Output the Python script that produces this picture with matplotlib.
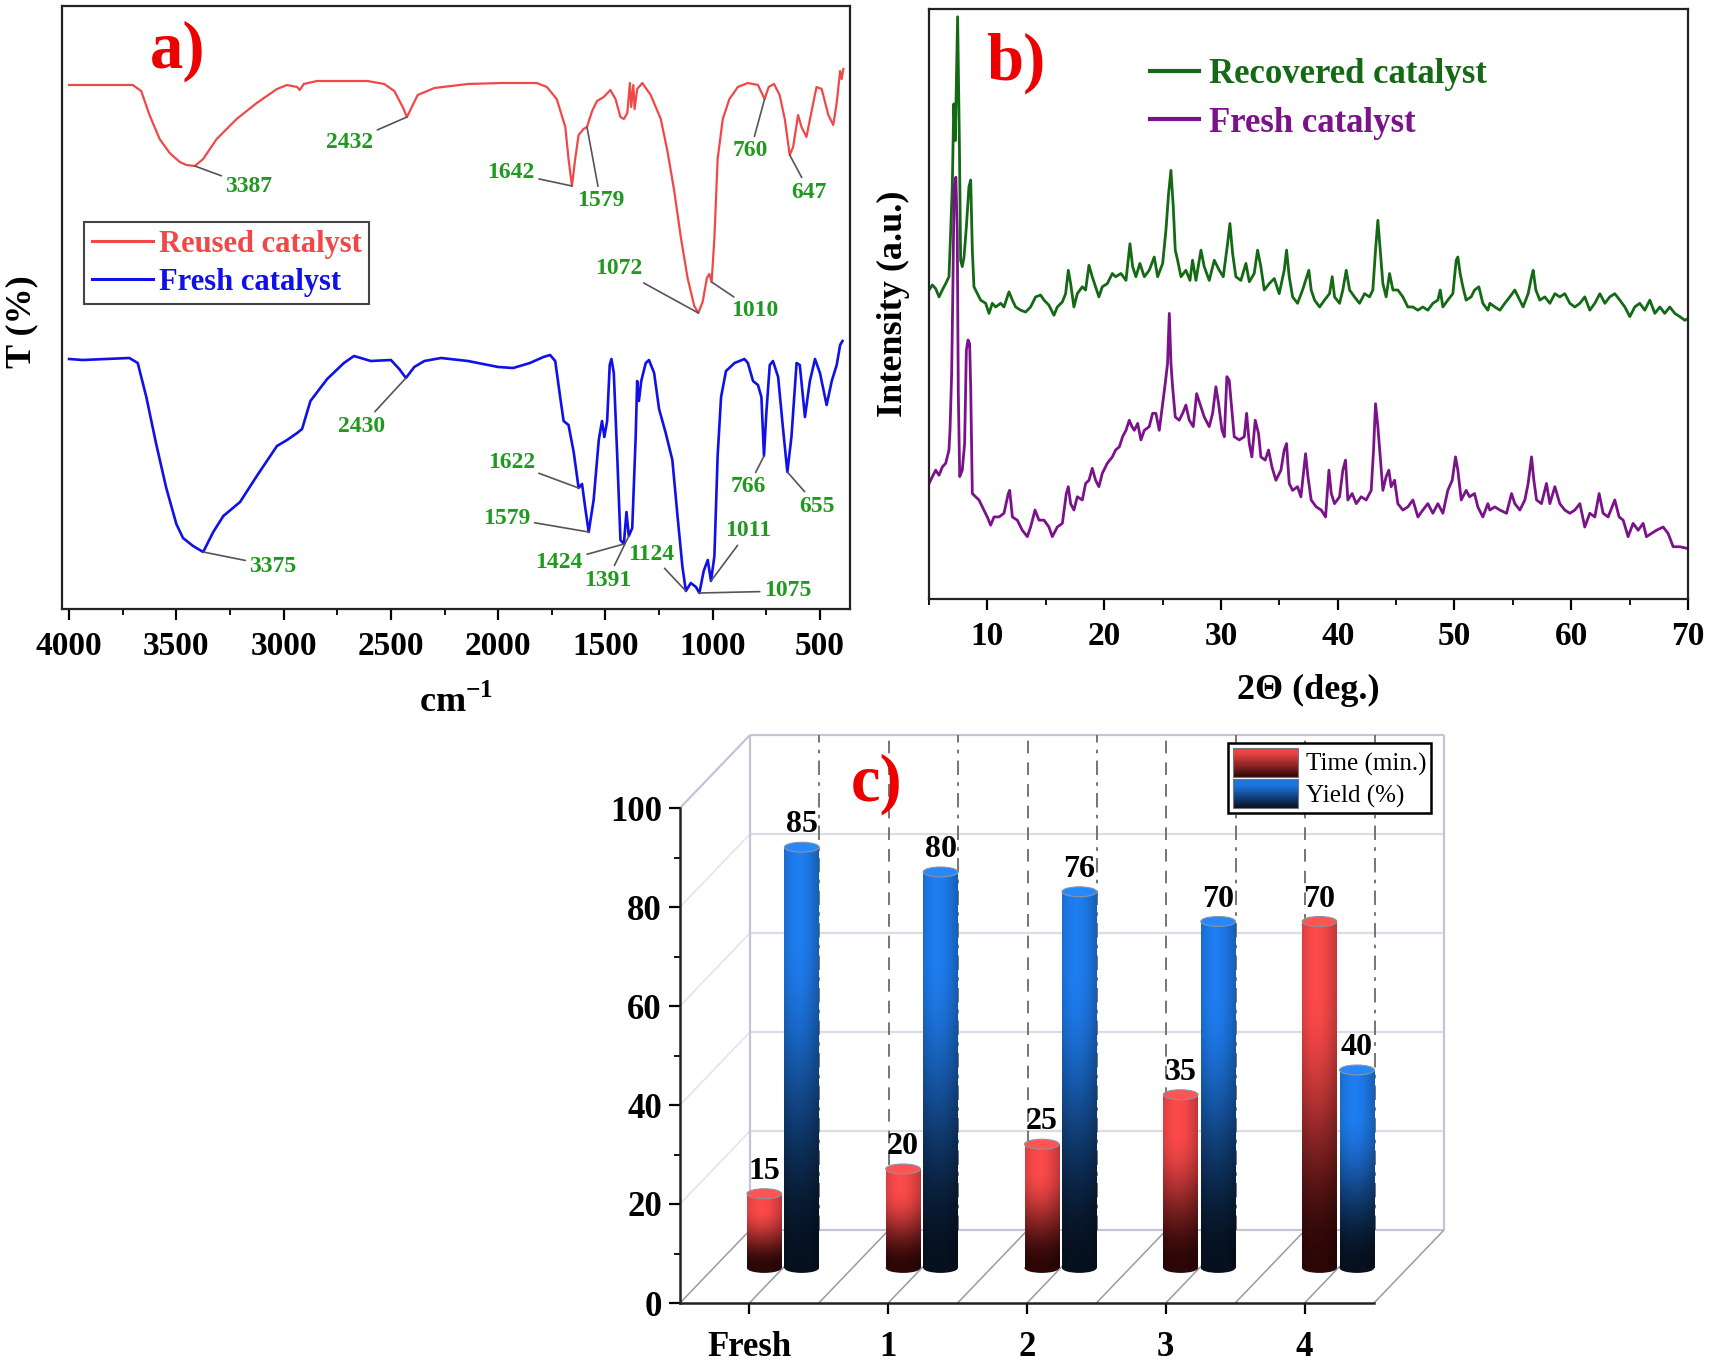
import numpy as np
import matplotlib
matplotlib.use('Agg')
import matplotlib.pyplot as plt
from matplotlib.patches import Rectangle, Ellipse, Patch
from matplotlib.legend_handler import HandlerBase
from matplotlib.ticker import MultipleLocator
from matplotlib.colors import to_rgb

# --- Configuration ---
W, H = 1713, 1367

plt.rcParams['font.family'] = ['Liberation Serif', 'DejaVu Serif']
plt.rcParams['font.weight'] = 'bold'
plt.rcParams['axes.labelweight'] = 'bold'
plt.rcParams['mathtext.fontset'] = 'custom'
plt.rcParams['mathtext.rm'] = 'Liberation Serif:bold'
plt.rcParams['mathtext.bf'] = 'Liberation Serif:bold'

RED_LINE = '#f04848'
BLUE_LINE = '#1010e8'
PEAK_TXT = '#1f9a1f'
XRD_GREEN = '#146a14'
XRD_PURPLE = '#7a128a'
RED_TOP, RED_BOT = '#ea4444', '#2a0606'
BLUE_TOP, BLUE_BOT = '#1c74de', '#06101e'

# --- a) FTIR: wavenumber (cm-1) vs transmittance (a.u.) ---
reused_wn = [4000, 3703, 3664, 3625, 3578, 3531, 3484, 3453, 3414, 3375,
             3312, 3219, 3125, 3031, 2984, 2937, 2925, 2906, 2844, 2766,
             2609, 2531, 2484, 2445, 2425, 2398, 2375, 2297, 2141, 1984,
             1820, 1773, 1727, 1687, 1672, 1656, 1641, 1625, 1602, 1586,
             1562, 1539, 1508, 1477, 1453, 1430, 1414, 1398, 1386, 1380,
             1370, 1364, 1352, 1328, 1289, 1242, 1211, 1180, 1148, 1117,
             1086, 1067, 1047, 1027, 1016, 1005, 992, 977, 953, 922,
             883, 836, 789, 758, 739, 714, 688, 664, 641, 625,
             602, 586, 563, 539, 516, 492, 461, 438, 422, 406,
             399, 391]
reused_t = [524, 524, 518, 494, 470, 456, 447, 444, 443, 450,
            470, 490, 506, 520, 524, 522, 519, 525, 528, 528,
            528, 525, 518, 502, 492, 504, 514, 521, 525, 526,
            526, 522, 510, 482, 450, 423, 450, 474, 480, 482,
            498, 508, 512, 519, 510, 492, 490, 496, 526, 502,
            524, 500, 520, 526, 514, 490, 458, 419, 371, 331,
            303, 296, 307, 331, 335, 327, 371, 450, 490, 510,
            522, 526, 524, 510, 522, 525, 514, 490, 454, 462,
            494, 482, 472, 498, 522, 520, 494, 484, 506, 538,
            530, 540]

fresh_wn = [4000, 3937, 3719, 3680, 3640, 3594, 3547, 3500, 3469, 3422,
            3375, 3328, 3281, 3203, 3125, 3031, 2984, 2937, 2914, 2875,
            2797, 2719, 2672, 2625, 2594, 2500, 2461, 2430, 2391, 2344,
            2266, 2141, 2000, 1930, 1852, 1789, 1758, 1734, 1711, 1695,
            1672, 1648, 1625, 1609, 1594, 1578, 1555, 1531, 1516, 1505,
            1492, 1480, 1472, 1461, 1445, 1430, 1414, 1402, 1391, 1375,
            1359, 1352, 1344, 1333, 1312, 1297, 1273, 1250, 1219, 1188,
            1164, 1141, 1125, 1102, 1078, 1062, 1042, 1023, 1008, 992,
            977, 961, 938, 898, 852, 836, 812, 789, 773, 761,
            750, 734, 719, 695, 672, 652, 633, 609, 594, 570,
            547, 523, 500, 469, 445, 422, 406, 395]
fresh_t = [250, 249, 251, 246, 212, 165, 121, 85, 71, 63,
           57, 77, 93, 107, 133, 163, 169, 176, 180, 208,
           230, 246, 253, 250, 248, 249, 240, 231, 242, 248,
           251, 248, 242, 241, 246, 252, 254, 248, 212, 188,
           184, 157, 121, 125, 101, 77, 109, 169, 188, 172,
           188, 244, 250, 236, 153, 69, 65, 97, 73, 81,
           172, 228, 208, 228, 246, 249, 236, 200, 176, 149,
           93, 42, 18, 26, 22, 16, 38, 49, 28, 53,
           153, 212, 238, 246, 250, 246, 228, 224, 212, 153,
           196, 244, 248, 232, 180, 137, 172, 246, 244, 192,
           228, 250, 236, 204, 228, 244, 264, 268]

# (label, peak wn, peak T, label wn, label T)
reused_peaks = [('3387', 3414, 443, 3161, 423), ('2432', 2425, 492, 2692, 467),
                ('1642', 1656, 423, 1939, 436), ('1579', 1586, 482, 1522, 408),
                ('760', 758, 510, 824, 458), ('647', 641, 454, 549, 417),
                ('1072', 1067, 296, 1440, 340), ('1010', 1005, 327, 804, 298)]
fresh_peaks = [('3375', 3375, 57, 3049, 43), ('2430', 2430, 231, 2636, 183),
               ('1622', 1625, 121, 1939, 146), ('1579', 1578, 77, 1960, 91),
               ('1424', 1414, 65, 1715, 47), ('1391', 1391, 73, 1491, 29),
               ('1124', 1125, 18, 1287, 55), ('1011', 1008, 28, 834, 78),
               ('1075', 1062, 16, 651, 18), ('766', 761, 153, 834, 122),
               ('655', 652, 137, 513, 103)]

# --- b) XRD: (2theta deg, intensity a.u.) ---
recovered_xrd = [
    (5.0, 674), (5.29, 685), (5.57, 677), (5.86, 659), (6.14, 674), (6.43, 688),
    (6.71, 703), (6.86, 804), (7.0, 906), (7.12, 1080), (7.25, 1000), (7.45, 1270),
    (7.6, 1000), (7.71, 739), (7.85, 725), (8.0, 746), (8.2, 812), (8.42, 899),
    (8.57, 914), (8.71, 761), (8.85, 681), (9.14, 666), (9.42, 652), (9.85, 645),
    (10.14, 623), (10.42, 645), (10.71, 637), (11.14, 645), (11.42, 637), (11.85, 670),
    (12.14, 652), (12.42, 637), (12.85, 630), (13.28, 626), (13.7, 637), (14.13, 659),
    (14.56, 663), (14.85, 652), (15.27, 641), (15.7, 619), (15.99, 637), (16.42, 648),
    (16.7, 666), (16.93, 717), (17.13, 688), (17.41, 637), (17.7, 666), (18.13, 681),
    (18.41, 674), (18.7, 728), (18.98, 703), (19.27, 681), (19.55, 659), (19.84, 681),
    (20.27, 688), (20.7, 710), (20.98, 703), (21.44, 710), (21.87, 695), (22.21, 775),
    (22.44, 725), (22.72, 703), (23.06, 732), (23.44, 703), (23.86, 717), (24.29, 746),
    (24.58, 703), (25.01, 732), (25.29, 804), (25.52, 885), (25.72, 935), (25.92, 855),
    (26.09, 761), (26.29, 739), (26.58, 703), (27.0, 717), (27.35, 695), (27.57, 739),
    (27.86, 695), (28.29, 761), (28.57, 725), (29.0, 695), (29.43, 739), (29.86, 717),
    (30.2, 703), (30.57, 775), (30.77, 819), (31.0, 754), (31.28, 703), (31.71, 695),
    (32.14, 732), (32.43, 692), (32.85, 710), (33.14, 761), (33.42, 725), (33.71, 674),
    (34.14, 688), (34.57, 699), (34.99, 666), (35.42, 717), (35.62, 761), (35.85, 703),
    (36.14, 659), (36.56, 645), (36.99, 674), (37.36, 703), (37.53, 717), (37.73, 674),
    (38.02, 652), (38.45, 637), (38.87, 652), (39.3, 666), (39.53, 703), (39.73, 659),
    (40.16, 645), (40.44, 674), (40.73, 717), (41.02, 674), (41.44, 659), (41.87, 645),
    (42.3, 666), (42.73, 659), (43.01, 674), (43.24, 761), (43.44, 826), (43.64, 761),
    (43.87, 688), (44.15, 659), (44.44, 710), (44.73, 674), (45.15, 674), (45.58, 659),
    (46.01, 637), (46.44, 637), (46.87, 630), (47.29, 637), (47.72, 630), (48.15, 645),
    (48.58, 652), (48.78, 674), (49.01, 637), (49.43, 652), (49.86, 666), (50.15, 739),
    (50.29, 746), (50.49, 710), (50.72, 681), (51.0, 652), (51.43, 659), (51.72, 674),
    (52.09, 681), (52.43, 645), (52.86, 630), (53.03, 645), (53.46, 637), (53.89, 630),
    (54.31, 645), (54.74, 659), (55.17, 674), (55.46, 659), (55.88, 637), (56.31, 666),
    (56.6, 703), (56.74, 717), (56.97, 674), (57.31, 652), (57.74, 659), (58.17, 645),
    (58.6, 666), (59.02, 659), (59.45, 666), (59.88, 645), (60.31, 637), (60.74, 645),
    (61.16, 659), (61.59, 630), (62.02, 645), (62.45, 666), (62.88, 645), (63.3, 659),
    (63.73, 666), (64.16, 652), (64.59, 637), (65.02, 616), (65.44, 637), (65.87, 645),
    (66.3, 630), (66.73, 652), (67.16, 623), (67.59, 637), (68.01, 623), (68.44, 637),
    (68.87, 623), (69.3, 616), (69.73, 608), (70.0, 612)]

fresh_xrd = [
    (5.0, 252), (5.29, 267), (5.57, 281), (5.86, 270), (6.14, 288), (6.43, 296),
    (6.71, 325), (6.8, 368), (6.94, 492), (7.05, 688), (7.15, 900), (7.3, 920),
    (7.42, 800), (7.51, 448), (7.63, 267), (7.85, 281), (8.05, 339), (8.2, 543),
    (8.34, 565), (8.48, 557), (8.57, 463), (8.71, 230), (9.0, 223), (9.28, 216),
    (9.57, 201), (9.99, 179), (10.28, 161), (10.57, 179), (11.0, 179), (11.42, 187),
    (11.79, 230), (11.91, 237), (12.14, 179), (12.56, 172), (12.99, 150), (13.42, 136),
    (13.7, 157), (14.08, 194), (14.42, 172), (14.85, 172), (15.27, 157), (15.56, 136),
    (15.99, 157), (16.42, 165), (16.76, 230), (16.93, 245), (17.13, 208), (17.41, 194),
    (17.7, 223), (18.13, 216), (18.41, 252), (18.7, 259), (18.98, 285), (19.27, 259),
    (19.55, 245), (19.84, 274), (20.27, 296), (20.7, 310), (20.98, 325), (21.3, 332),
    (21.58, 354), (21.87, 368), (22.15, 390), (22.38, 376), (22.58, 368), (22.87, 383),
    (23.15, 347), (23.44, 368), (23.86, 376), (24.15, 405), (24.43, 405), (24.72, 368),
    (25.01, 426), (25.23, 470), (25.43, 514), (25.58, 623), (25.72, 514), (25.86, 463),
    (26.09, 397), (26.43, 390), (26.72, 405), (27.0, 423), (27.29, 390), (27.63, 376),
    (27.92, 448), (28.2, 426), (28.57, 397), (29.0, 376), (29.29, 405), (29.57, 463),
    (29.8, 426), (30.09, 368), (30.29, 354), (30.51, 485), (30.71, 477), (30.94, 412),
    (31.14, 354), (31.57, 347), (32.0, 354), (32.2, 405), (32.43, 339), (32.65, 310),
    (32.94, 390), (33.22, 361), (33.42, 310), (33.79, 303), (34.08, 325), (34.37, 288),
    (34.71, 259), (35.14, 281), (35.42, 325), (35.62, 339), (35.85, 252), (36.14, 237),
    (36.56, 245), (36.85, 223), (37.25, 317), (37.45, 267), (37.73, 216), (38.16, 201),
    (38.59, 194), (38.96, 179), (39.25, 281), (39.45, 230), (39.73, 208), (40.16, 223),
    (40.44, 281), (40.67, 303), (40.87, 216), (41.24, 230), (41.59, 208), (42.01, 223),
    (42.44, 216), (42.87, 237), (43.07, 325), (43.24, 426), (43.44, 376), (43.64, 310),
    (43.87, 237), (44.15, 267), (44.38, 281), (44.58, 245), (44.87, 259), (45.15, 208),
    (45.58, 194), (46.01, 201), (46.44, 216), (46.87, 179), (47.29, 194), (47.72, 208),
    (48.15, 187), (48.58, 208), (49.01, 187), (49.43, 237), (49.81, 259), (50.09, 310),
    (50.29, 281), (50.58, 216), (51.0, 237), (51.29, 223), (51.72, 230), (52.0, 201),
    (52.43, 179), (52.86, 208), (53.03, 194), (53.46, 201), (53.89, 194), (54.46, 187),
    (54.89, 230), (55.17, 208), (55.6, 194), (56.03, 216), (56.31, 252), (56.6, 310),
    (56.8, 259), (57.03, 216), (57.45, 208), (57.88, 252), (58.17, 208), (58.6, 245),
    (59.02, 208), (59.45, 194), (59.88, 187), (60.31, 194), (60.74, 208), (61.16, 157),
    (61.59, 187), (62.02, 179), (62.39, 230), (62.73, 187), (63.16, 179), (63.73, 216),
    (64.1, 179), (64.45, 172), (64.87, 136), (65.3, 165), (65.73, 150), (66.16, 165),
    (66.44, 136), (66.87, 143), (67.3, 150), (67.87, 157), (68.3, 143), (68.73, 114),
    (69.3, 114), (70.0, 110)]

# --- c) reusability ---
runs = ['Fresh', '1', '2', '3', '4']
time_min = [15, 20, 25, 35, 70]
yield_pct = [85, 80, 76, 70, 40]
# --- End Configuration ---


fig = plt.figure(figsize=(W / 100, H / 100), dpi=100)


def px_axes(left, top, right, bottom):
    """Axes placed by pixel edges (origin top-left)."""
    return fig.add_axes([left / W, 1 - bottom / H, (right - left) / W, (bottom - top) / H])


def style_box(ax):
    for sp in ax.spines.values():
        sp.set_linewidth(1.6)
        sp.set_color('#222222')
    ax.set_yticks([])
    ax.tick_params(axis='x', which='major', direction='out', length=8, width=1.6,
                   labelsize=24, pad=8)
    ax.tick_params(axis='x', which='minor', direction='out', length=4, width=1.3)


# ---------------- a) FTIR ----------------
ax_a = px_axes(62, 6, 850, 609)
ax_a.plot(reused_wn, reused_t, color=RED_LINE, lw=1.6, label='Reused catalyst')
ax_a.plot(fresh_wn, fresh_t, color=BLUE_LINE, lw=1.9, label='Fresh catalyst')
ax_a.set_xlim(4033, 360)
ax_a.set_ylim(0, 603)
ax_a.xaxis.set_major_locator(MultipleLocator(500))
ax_a.xaxis.set_minor_locator(MultipleLocator(250))
style_box(ax_a)
ax_a.set_xlabel(r'cm$^{-1}$', fontsize=26, labelpad=16)

for lab, pw, pt, tw, tt in reused_peaks + fresh_peaks:
    ax_a.annotate(lab, xy=(pw, pt), xytext=(tw, tt), ha='center', va='center',
                  fontsize=17, color=PEAK_TXT,
                  arrowprops=dict(arrowstyle='-', color='#555555', lw=1.2,
                                  shrinkA=1, shrinkB=0))

leg_a = ax_a.legend(loc='upper left', bbox_to_anchor=(84 / W, 1 - 222 / H),
                    bbox_transform=fig.transFigure, borderaxespad=0,
                    fontsize=22, labelcolor='linecolor', fancybox=False,
                    edgecolor='#444444', framealpha=1, handlelength=2.0,
                    handletextpad=0.2, labelspacing=0.3, borderpad=0.25)
leg_a.get_frame().set_linewidth(1.5)
for ln in leg_a.get_lines():
    ln.set_linewidth(2.2)
fig.text(22 / W, 1 - 322 / H, 'T (%)', rotation=90, ha='center', va='center', fontsize=26)
fig.text(178 / W, 1 - 51 / H, 'a)', color='#ee0000', ha='center', va='center', fontsize=48)

# ---------------- b) XRD ----------------
rec_2t, rec_int = np.array(recovered_xrd).T
fr_2t, fr_int = np.array(fresh_xrd).T
ax_b = px_axes(929, 9, 1688, 599)
ax_b.plot(rec_2t, rec_int, color=XRD_GREEN, lw=2.0, label='Recovered catalyst')
ax_b.plot(fr_2t, fr_int, color=XRD_PURPLE, lw=2.0, label='Fresh catalyst')
ax_b.set_xlim(5, 70)
ax_b.set_ylim(0, 1287)
ax_b.xaxis.set_major_locator(MultipleLocator(10))
ax_b.xaxis.set_minor_locator(MultipleLocator(5))
style_box(ax_b)
ax_b.set_xlabel('2\u0398 (deg.)', fontsize=26, labelpad=16)
ax_b.set_ylabel('Intensity (a.u.)', fontsize=26, labelpad=14)
leg_b = ax_b.legend(loc='upper left', bbox_to_anchor=(1136 / W, 1 - 44 / H),
                    bbox_transform=fig.transFigure, borderaxespad=0, frameon=False,
                    fontsize=25, labelcolor='linecolor', handlelength=1.4,
                    handletextpad=0.3, labelspacing=0.45)
for ln in leg_b.get_lines():
    ln.set_linewidth(3.0)
fig.text(1016 / W, 1 - 63 / H, 'b)', color='#ee0000', ha='center', va='center', fontsize=48)

# ---------------- c) reuse bars (pseudo 3D) ----------------
C_L, C_T, C_R, C_B = 680, 808, 1374, 1303
ax_c = px_axes(C_L, C_T, C_R, C_B)
ax_c.set_facecolor('none')
ax_c.set_xlim(-0.5, 4.5)
ax_c.set_ylim(0, 100)
# depth offset of the back wall, converted to data units
DX = 70 / ((C_R - C_L) / 5.0)
DY = 73 / ((C_B - C_T) / 100.0)


def seg(x0, y0, x1, y1, **kw):
    ax_c.plot([x0, x1], [y0, y1], clip_on=False, solid_capstyle='butt', **kw)


# back wall + left wall + floor
for yv in [20, 40, 60, 80]:
    seg(-0.5 + DX, yv + DY, 4.5 + DX, yv + DY, color='#dcdce8', lw=1.6, zorder=0.3)
    seg(-0.5, yv, -0.5 + DX, yv + DY, color='#e4e4ee', lw=1.2, zorder=0.3)
for yv in [0, 100]:
    seg(-0.5 + DX, yv + DY, 4.5 + DX, yv + DY, color='#c4c4d4', lw=1.6, zorder=0.3)
seg(-0.5, 100, -0.5 + DX, 100 + DY, color='#c4c4d4', lw=1.6, zorder=0.3)
seg(-0.5 + DX, DY, -0.5 + DX, 100 + DY, color='#c4c4d4', lw=1.6, zorder=0.3)
seg(4.5 + DX, DY, 4.5 + DX, 100 + DY, color='#c4c4d4', lw=1.6, zorder=0.3)
for k in range(11):
    xk = -0.5 + 0.5 * k
    seg(xk, 0, xk + DX, DY, color='#9a9aa4', lw=1.1, zorder=0.3)
    if 0 < k < 10:
        ls = (0, (8, 4, 2, 4)) if k % 2 == 1 else (0, (7, 5))
        seg(xk + DX, DY, xk + DX, 100 + DY, color='#6a6a6a', lw=1.3, ls=ls, zorder=0.4)


def shaded(top, bot, n=90, m=30):
    t = np.linspace(0, 1, n)[:, None]
    u = np.linspace(0, 1, m)[None, :]
    r = np.clip(t / 0.8, 0, 1)
    r = r * r * (3 - 2 * r)
    top, bot = np.array(to_rgb(top)), np.array(to_rgb(bot))
    col = bot + (top - bot) * r[..., None]
    shade = 0.82 + 0.26 * np.sin(np.pi * (0.15 + 0.85 * u))
    return np.clip(col * shade[..., None], 0, 1)


DEPTH = 0.48
BAR_W = 0.25
base = DEPTH * DY
xs = np.arange(len(runs)) + DEPTH * DX
series = [(time_min, -0.135, RED_TOP, RED_BOT), (yield_pct, 0.135, BLUE_TOP, BLUE_BOT)]
for vals, shift, ctop, cbot in series:
    bars = ax_c.bar(xs + shift, vals, BAR_W, bottom=base, color='none',
                    edgecolor='none', clip_on=False, zorder=2)
    img = shaded(ctop, cbot)
    ecap = 2.0
    for rect, v in zip(bars, vals):
        x0, w = rect.get_x(), rect.get_width()
        xc = x0 + w / 2
        ax_c.add_patch(Ellipse((xc, base), w, ecap, facecolor=img[0, 12],
                               edgecolor='none', zorder=1.9, clip_on=False))
        ax_c.imshow(img, extent=(x0, x0 + w, base, base + v), origin='lower',
                    aspect='auto', interpolation='bilinear', zorder=2, clip_on=False)
        cap = np.clip(np.array(to_rgb(ctop)) * 1.08 + 0.04, 0, 1)
        ax_c.add_patch(Ellipse((xc, base + v), w, ecap, facecolor=cap,
                               edgecolor='#8a94a4', lw=0.8, zorder=2.1, clip_on=False))
        ax_c.text(xc, base + v + 1.6, str(v), ha='center', va='bottom', fontsize=23,
                  zorder=3, clip_on=False)

ax_c.set_xlim(-0.5, 4.5)
ax_c.set_ylim(0, 100)
for side in ['top', 'right']:
    ax_c.spines[side].set_visible(False)
for side in ['left', 'bottom']:
    ax_c.spines[side].set_linewidth(1.8)
    ax_c.spines[side].set_color('#222222')
ax_c.set_xticks(range(len(runs)))
ax_c.set_xticklabels(runs)
ax_c.yaxis.set_major_locator(MultipleLocator(20))
ax_c.yaxis.set_minor_locator(MultipleLocator(10))
ax_c.tick_params(axis='both', which='major', direction='out', length=8, width=1.6,
                 labelsize=25)
ax_c.tick_params(axis='x', which='major', pad=12)
ax_c.tick_params(axis='y', which='major', pad=5)
ax_c.tick_params(axis='y', which='minor', direction='out', length=4, width=1.3)


class GradientHandler(HandlerBase):
    def __init__(self, top, bot):
        super().__init__()
        self.top = np.array(to_rgb(top))
        self.bot = np.array(to_rgb(bot))

    def create_artists(self, legend, orig_handle, xdescent, ydescent,
                       width, height, fontsize, trans):
        n = 14
        arts = []
        for k in range(n):
            t = (k + 0.5) / n
            col = self.bot + (self.top - self.bot) * min(1.0, t / 0.8)
            arts.append(Rectangle((-xdescent, -ydescent + k * height / n), width,
                                  height / n + 0.3, facecolor=col, edgecolor='none',
                                  transform=trans))
        arts.append(Rectangle((-xdescent, -ydescent), width, height, facecolor='none',
                              edgecolor='#777777', lw=0.8, transform=trans))
        return arts


h_time = Patch()
h_yield = Patch()
leg_c = ax_c.legend([h_time, h_yield], ['Time (min.)', 'Yield (%)'],
                    handler_map={h_time: GradientHandler(RED_TOP, RED_BOT),
                                 h_yield: GradientHandler(BLUE_TOP, BLUE_BOT)},
                    loc='upper right', bbox_to_anchor=(1431 / W, 1 - 743 / H),
                    bbox_transform=fig.transFigure, borderaxespad=0,
                    prop={'weight': 'normal', 'size': 18}, fancybox=False,
                    edgecolor='black', framealpha=1, handlelength=2.6,
                    handleheight=1.4, borderpad=0.2, labelspacing=0.1,
                    handletextpad=0.3)
leg_c.get_frame().set_linewidth(1.8)
fig.text(877 / W, 1 - 784 / H, 'c)', color='#ee0000', ha='center', va='center', fontsize=48)

plt.savefig('out.png', dpi=100)
